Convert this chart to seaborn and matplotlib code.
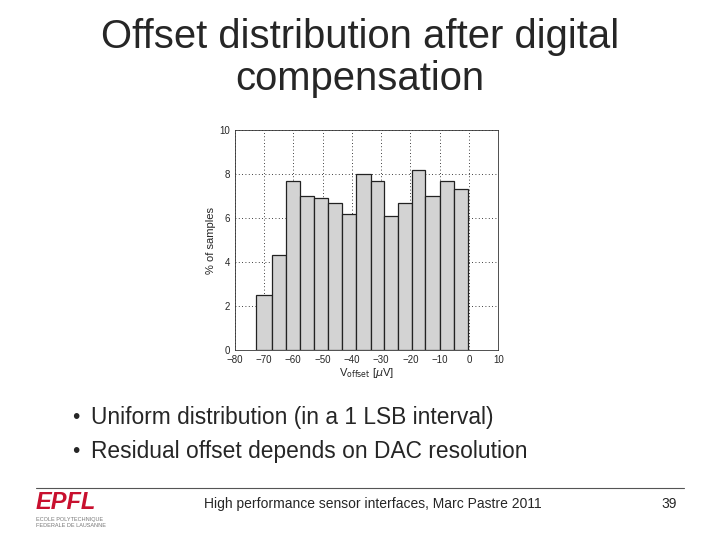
import numpy as np
import matplotlib
matplotlib.use("Agg")
import matplotlib.pyplot as plt
import seaborn as sns

edges = [-72.6, -67.4, -62.5, -57.6, -53.0, -48.1, -43.3, -38.6, -33.6, -29.0, -24.2, -19.5, -14.9, -9.9, -5.0, -0.2]
values = [2.5, 4.3, 7.7, 7.0, 6.9, 6.7, 6.2, 8.0, 7.7, 6.1, 6.7, 8.2, 7.0, 7.7, 7.3]
xticks = [-80, -70, -60, -50, -40, -30, -20, -10, 0, 10]
yticks = [0, 2, 4, 6, 8, 10]

sns.set_style("white")
plt.rcParams['font.family'] = ['Liberation Sans', 'DejaVu Sans']
fig = plt.figure(figsize=(7.2, 5.4), dpi=100)
ax = fig.add_axes([0.326, 0.352, 0.366, 0.407])
centers = [(edges[i] + edges[i + 1]) / 2 for i in range(len(values))]
sns.histplot(x=centers, weights=values, bins=edges, ax=ax, color="#d3d3d3",
             edgecolor="#222222", linewidth=0.9, alpha=1, zorder=3)
ax.set_xlim(-80, 10)
ax.set_ylim(0, 10)
ax.set_xticks(xticks)
ax.set_yticks(yticks)
ax.tick_params(labelsize=7, length=2, direction="in")
ax.grid(True, linestyle=(0, (1, 3)), color="black", linewidth=0.6, zorder=0)
ax.set_axisbelow(True)
for s in ax.spines.values():
    s.set_linewidth(0.6)
    s.set_color("#333333")
ax.set_ylabel("% of samples", fontsize=8, labelpad=2)
ax.set_xlabel(r"V$_{\mathrm{offset}}$ [$\mu$V]", fontsize=8, labelpad=1)

fig.text(0.5, 0.893, "Offset distribution after digital\ncompensation", ha="center", va="center",
         fontsize=28.8, linespacing=1.15)
fig.text(0.1, 0.226, "•", fontsize=15, va="center")
fig.text(0.126, 0.226, "Uniform distribution (in a 1 LSB interval)", fontsize=16.4, va="center")
fig.text(0.1, 0.163, "•", fontsize=15, va="center")
fig.text(0.126, 0.163, "Residual offset depends on DAC resolution", fontsize=16.4, va="center")
fig.add_artist(plt.Line2D([0.05, 0.95], [0.097, 0.097], color="#555555", linewidth=0.8))
fig.text(0.518, 0.067, "High performance sensor interfaces, Marc Pastre 2011", ha="center", va="center", fontsize=10)
fig.text(0.94, 0.067, "39", ha="right", va="center", fontsize=10)
fig.text(0.05, 0.07, "EPFL", color="#c8102e", fontsize=17, fontweight="bold", va="center", style="italic")
fig.text(0.05, 0.032, "ECOLE POLYTECHNIQUE\nFEDERALE DE LAUSANNE", color="#777777", fontsize=4, va="center")
fig.savefig("out.png", dpi=100)
